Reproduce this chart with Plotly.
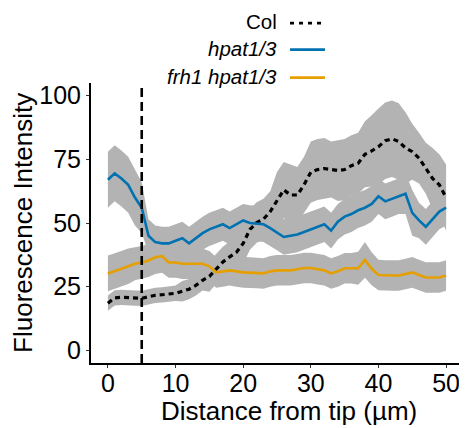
import plotly.graph_objects as go

distance = list(range(0, 51))

col_mean = [18.5, 20.6, 20.8, 20.6, 20.5, 20.4, 21.0, 21.6, 21.8, 22.0,
            22.4, 23.2, 24.0, 25.5, 27.5, 29.0, 32.0, 34.7, 36.7, 38.5,
            42.0, 47.5, 50.2, 51.5, 54.5, 59.0, 63.0, 61.0, 61.0, 65.0,
            70.0, 71.0, 71.4, 71.0, 70.6, 71.0, 72.5, 73.5, 77.0, 78.3,
            80.0, 82.3, 83.1, 82.0, 79.5, 78.0, 75.5, 71.5, 67.5, 65.0, 60.0]
col_sd = [3, 3, 3, 3, 3, 3, 3, 3, 3, 3,
          3, 4, 4, 4, 4, 6, 6, 6, 6, 6,
          8, 8, 8, 8, 8, 11, 11, 12, 11, 11,
          12, 12, 12, 11, 12, 12, 12, 12, 13, 14,
          15, 15, 15, 15, 14, 11, 10, 10, 12, 12, 13]

hpat_mean = [67.0, 69.5, 67.5, 65.0, 60.0, 56.0, 45.0, 42.5, 42.0, 42.0,
             43.0, 44.0, 42.0, 44.0, 46.0, 47.5, 48.5, 49.5, 48.0, 49.5,
             51.0, 50.0, 49.8, 49.5, 48.0, 46.3, 44.5, 45.0, 45.5, 46.5,
             47.5, 48.5, 49.5, 47.0, 50.5, 52.5, 53.5, 55.0, 56.0, 57.5,
             60.5, 58.5, 59.5, 60.5, 61.5, 54.0, 51.0, 48.5, 51.5, 54.5, 56.0]
hpat_sd = [11, 11, 11, 11, 11, 10, 6.5, 6.5, 6.5, 6.5,
           6.5, 6.5, 6.5, 6.5, 6.5, 6.5, 6.5, 6.5, 6.5, 6.5,
           6.5, 7, 7, 7, 7, 7, 7, 7, 7, 7,
           7, 7, 7, 7, 7, 7, 7, 7, 7, 7,
           7, 7, 7, 7, 8, 9, 7, 7, 7, 7, 7]

frh_mean = [30.2, 31.0, 32.0, 33.0, 34.0, 34.5, 35.3, 36.5, 37.0, 34.5,
            34.5, 34.0, 34.0, 34.0, 34.0, 33.0, 30.6, 31.0, 31.4, 31.0,
            30.6, 30.5, 30.4, 30.2, 31.0, 31.4, 31.4, 31.4, 31.8, 32.3,
            32.3, 31.8, 31.4, 30.2, 31.0, 32.2, 32.2, 32.2, 35.5, 32.0,
            29.6, 29.4, 29.4, 29.4, 30.0, 30.6, 29.6, 28.6, 28.6, 28.6, 29.4]
frh_sd = [7, 7, 7, 7, 6.5, 6.5, 6.5, 6.5, 6.5, 6,
          6, 6, 6, 6, 6, 6, 6, 6, 6, 6,
          6, 6, 6, 6, 6, 6, 6, 6, 6, 6,
          6, 6, 6, 6, 6, 6, 6, 6.5, 7, 6.5,
          6, 6, 6, 6, 6, 6, 6, 6, 6, 6, 6]

series_names = ["Col", "hpat1/3", "frh1 hpat1/3"]
series_colors = ["#000000", "#0072B2", "#E69F00"]
x_ticks = [0, 10, 20, 30, 40, 50]
y_ticks = [0, 25, 50, 75, 100]
tip_marker = 5

FONT = "Liberation Sans, Arial, sans-serif"
BAND = "#B3B3B3"

fig = go.Figure()

means = [col_mean, hpat_mean, frh_mean]
sds = [col_sd, hpat_sd, frh_sd]

for m, s in zip(means, sds):
    upper = [a + b for a, b in zip(m, s)]
    lower = [a - b for a, b in zip(m, s)]
    fig.add_trace(go.Scatter(
        x=distance + distance[::-1], y=upper + lower[::-1],
        fill="toself", fillcolor=BAND, line=dict(width=0),
        mode="lines", hoverinfo="skip", showlegend=False))

for m, name, c in zip(means, series_names, series_colors):
    dash = "5px,4px" if name == "Col" else "solid"
    width = 3.2 if name == "Col" else 2.6
    fig.add_trace(go.Scatter(
        x=distance, y=m, mode="lines", name=name,
        line=dict(color=c, width=width, dash=dash), showlegend=False))

fig.add_shape(type="line", xref="x", yref="paper", x0=tip_marker, x1=tip_marker,
              y0=0, y1=1, line=dict(color="black", width=2.6, dash="9px,5px"),
              layer="above")

# custom legend (text left of symbol)
leg_y = [1.218, 1.123, 1.023]
leg_text = ["Col", "<i>hpat1/3</i>", "<i>frh1 hpat1/3</i>"]
for yy, t, c, name in zip(leg_y, leg_text, series_colors, series_names):
    fig.add_annotation(xref="paper", yref="paper", x=0.5, y=yy, text=t,
                       showarrow=False, xanchor="right", yanchor="middle",
                       xshift=2,
                       font=dict(family=FONT, size=20.5, color="black"))
    fig.add_shape(type="line", xref="paper", yref="paper",
                  x0=0.535, x1=0.629, y0=yy - 0.004, y1=yy - 0.004,
                  line=dict(color=c, width=2.8,
                            dash="4px,5px" if name == "Col" else "solid"))

fig.add_annotation(xref="paper", yref="paper", x=0.532, y=-0.173,
                   text="Distance from tip (µm)", showarrow=False,
                   xanchor="center", yanchor="middle",
                   font=dict(family=FONT, size=26, color="black"))
fig.add_annotation(xref="paper", yref="paper", x=-0.183, y=0.5,
                   text="Fluorescence Intensity", showarrow=False, textangle=-90,
                   xanchor="center", yanchor="middle",
                   font=dict(family=FONT, size=26, color="black"))

# the page body adds an 8px offset, so the figure is 8px smaller
fig.update_layout(
    width=459, height=420,
    margin=dict(l=83, r=4, t=75, b=65, autoexpand=False),
    paper_bgcolor="white", plot_bgcolor="white",
    font=dict(family=FONT, color="black"),
    showlegend=False,
    xaxis=dict(range=[-2.5, 52.5], tickvals=x_ticks, showgrid=False, zeroline=False,
               showline=True, linecolor="black", linewidth=2, automargin=False,
               ticks="outside", ticklen=3, tickcolor="#333333",
               ticklabelstandoff=-6,
               tickfont=dict(family=FONT, size=25, color="black")),
    yaxis=dict(range=[-5, 105], tickvals=y_ticks, showgrid=False, zeroline=False,
               showline=True, linecolor="black", linewidth=2, automargin=False,
               ticks="outside", ticklen=3, tickcolor="#333333",
               tickfont=dict(family=FONT, size=25, color="black")),
)

fig.write_html("out.html")
